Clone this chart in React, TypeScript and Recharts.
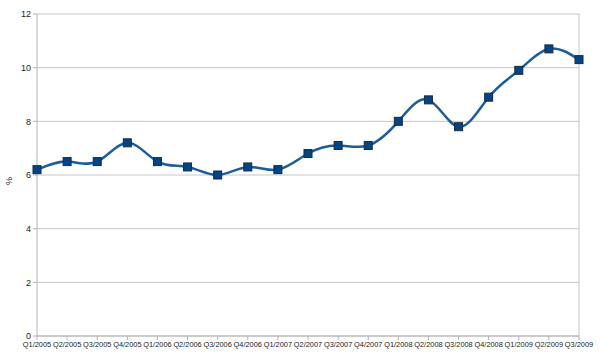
import React from 'react';
import { LineChart, Line, XAxis, YAxis, CartesianGrid, ReferenceLine } from 'recharts';

const quarters = [
  'Q1/2005', 'Q2/2005', 'Q3/2005', 'Q4/2005',
  'Q1/2006', 'Q2/2006', 'Q3/2006', 'Q4/2006',
  'Q1/2007', 'Q2/2007', 'Q3/2007', 'Q4/2007',
  'Q1/2008', 'Q2/2008', 'Q3/2008', 'Q4/2008',
  'Q1/2009', 'Q2/2009', 'Q3/2009',
];

const rates = [
  6.2, 6.5, 6.5, 7.2,
  6.5, 6.3, 6.0, 6.3,
  6.2, 6.8, 7.1, 7.1,
  8.0, 8.8, 7.8, 8.9,
  9.9, 10.7, 10.3,
];

const yTicks = [0, 2, 4, 6, 8, 10, 12];

const data = quarters.map((q, i) => ({ quarter: q, rate: rates[i] }));

const font = '"Liberation Sans", Arial, sans-serif';

// square marker like the office-suite default
function SquareDot(props: any) {
  const { cx, cy } = props;
  if (cx == null || cy == null) return null;
  return (
    <rect
      x={cx - 4}
      y={cy - 4}
      width={8}
      height={8}
      fill="#004586"
      stroke="#1b2b3c"
      strokeWidth={1}
    />
  );
}

function PercentLabel() {
  return (
    <text
      x={9}
      y={181}
      transform="rotate(-90 9 181)"
      textAnchor="middle"
      dominantBaseline="central"
      fontSize={9}
      fill="#222"
      fontFamily={font}
    >
      %
    </text>
  );
}

export default function App() {
  return (
    <div style={{ position: 'absolute', left: 0, top: 0, background: '#fff' }}>
      <LineChart
        width={600}
        height={363}
        data={data}
        margin={{ top: 14, right: 21, left: 0, bottom: 0 }}
      >
        <CartesianGrid vertical={false} stroke="#c6c6c6" />
        <ReferenceLine x="Q3/2009" stroke="#c6c6c6" />
        <XAxis
          dataKey="quarter"
          height={27}
          interval={0}
          stroke="#b3b3b3"
          tickSize={4}
          tickMargin={2}
          tick={{ fontSize: 7.4, fill: '#222', fontFamily: font }}
        />
        <YAxis
          width={37}
          domain={[0, 12]}
          ticks={yTicks}
          stroke="#b3b3b3"
          tickSize={4}
          tickMargin={2}
          tick={{ fontSize: 9, fill: '#222', fontFamily: font }}
          label={{ content: () => <PercentLabel /> }}
        />
        <Line
          type="natural"
          dataKey="rate"
          stroke="#1d5d9b"
          strokeWidth={2.5}
          dot={<SquareDot />}
          activeDot={false}
          isAnimationActive={false}
        />
      </LineChart>
    </div>
  );
}
